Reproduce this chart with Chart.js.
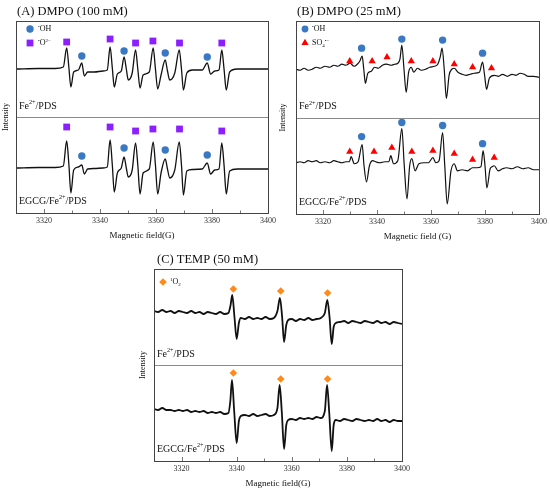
<!DOCTYPE html>
<html>
<head>
<meta charset="utf-8">
<script src="https://cdn.jsdelivr.net/npm/chart.js@4.4.1/dist/chart.umd.min.js"></script>
<style>
  html, body { margin: 0; padding: 0; background: #fff; }
  #wrap { position: relative; width: 550px; height: 492px; }
  #wrap canvas { position: absolute; left: 0; top: 0; }
</style>
</head>
<body>
<div id="wrap">
  <canvas id="panelA" width="550" height="492"></canvas>
  <canvas id="panelB" width="550" height="492"></canvas>
  <canvas id="panelC" width="550" height="492"></canvas>
</div>
<script>
// Shared axis
const xTickLabels = [3320, 3340, 3360, 3380, 3400];
const xMinorTicks = [3330, 3350, 3370, 3390];

// (A) DMPO 100 mM - Fe2+/PDS
const aTopField = [
  3310, 3318, 3324, 3326.9, 3328.1, 3328.9, 3329.6, 3330.6, 3332.3, 3333.5,
  3334.4, 3335.6, 3338, 3341, 3342.6, 3343.6, 3344.4, 3345.1, 3346.2, 3347.6,
  3348.6, 3349.4, 3350.1, 3351.5, 3352.7, 3353.5, 3354.3, 3355.4, 3357.6, 3359.0,
  3359.8, 3360.6, 3361.8, 3363.3, 3364.1, 3364.9, 3366.7, 3368.3, 3369.1, 3369.8,
  3371, 3373, 3376.5, 3378.3, 3379.5, 3381, 3382.5, 3383.5, 3384.3, 3385.1,
  3386.3, 3389, 3395, 3400
];
const aTopSignal = [
  0, 0.5, 0.5, 2, 21, 1, -18, -3, -1, 6,
  -7, -3, -3, -2, -1, 22, 1, -18, -5, -2,
  12, 0, -11, -4, 19, 0, -19, -6, -3, 21,
  0, -20, -6, 9, -2, -11, -4, 19, 0, -21,
  -4, -1, -1, 6, -5, -2, -1, 19, 0, -21,
  -3, 0, 0, 0
];
// (A) EGCG/Fe2+/PDS
const aBotField = aTopField;
const aBotSignal = [
  -3, -2.5, -2.5, -1, 24, 0, -28, -5, -2, 0,
  -9, -4, -3.5, -3, -2, 25, 0, -27, -8, -3,
  8, -3, -12, -5, 22, 0, -29, -8, -4, 23,
  0, -29, -8, 6, -4, -13, -5, 23, 0, -30,
  -6, -4.5, -4, 2, -9, -5, -4, 22, 0, -29,
  -6, -4, -4, -4
];
const aOHField = [3333.5, 3348.6, 3363.3, 3378.3];
const aOHTop = [13, 18, 16, 12];
const aOHBot = [9, 17, 15, 10];
const aO2Field = [3328.1, 3343.6, 3352.7, 3358.9, 3368.4, 3383.5];
const aO2Top = [27, 30, 26, 28, 26, 26];
const aO2Bot = [38, 38, 34, 36, 36, 34];

// (B) DMPO 25 mM - Fe2+/PDS
const bTopField = [
  3310, 3311.5, 3313, 3314.5, 3316, 3317.5, 3319, 3320.7, 3322.5, 3324,
  3325.5, 3327, 3328.5, 3330, 3331.5, 3332.7, 3333.6, 3334.5, 3335.1, 3335.7,
  3336.6, 3337.9, 3339.1, 3340.5, 3342, 3343.5, 3345.3, 3346.5, 3347.7, 3348.5,
  3349.2, 3350, 3350.8, 3351.7, 3352.7, 3353.6, 3355, 3356.4, 3358, 3359.5,
  3361.3, 3362.5, 3363.4, 3364.1, 3364.9, 3365.7, 3366.7, 3367.7, 3368.6, 3370,
  3371.5, 3373, 3374.5, 3376, 3377.9, 3379.1, 3379.8, 3380.6, 3381.6, 3383.4,
  3385, 3386.5, 3388.3, 3390, 3391.5, 3393, 3394.5, 3396, 3398, 3400
];
const bTopSignal = [
  0, -1, 1, -1, 0, 2, 1, 3, 2, 4,
  3, 5, 4, 6, 3, 5, 8, 13, 0, -14,
  -4, -2, 2, 1, 4, 5, 4, 5, 6, 10,
  24, 0, -23, -3, 2, -3, 1, -1, 0, 2,
  3, 5, 12, 21, 0, -29, -6, 0, 1, -3,
  -5, -6, -5, -4, -3, 7, -5, -20, -9, -6,
  -7, -5, -7, -5, -6, -4, -5, -7, -7, -8
];
// (B) EGCG/Fe2+/PDS
const bBotField = [
  3310, 3311.5, 3313, 3314.5, 3316, 3317.5, 3319, 3320.7, 3322.5, 3324,
  3325.5, 3327, 3328.5, 3329.8, 3330.4, 3331.6, 3333, 3334.5, 3335.2, 3336.1,
  3337.2, 3338.4, 3339.5, 3341, 3343, 3344.4, 3345.1, 3346.1, 3347.7, 3349.2,
  3350.1, 3351.1, 3352.1, 3352.9, 3354.1, 3355.5, 3357.5, 3359, 3360.7, 3361.8,
  3363, 3364.3, 3365.1, 3366.0, 3367.4, 3368.6, 3369.8, 3371.5, 3373.5, 3375.4,
  3377, 3378.5, 3379.3, 3380, 3380.7, 3381.9, 3382.6, 3383.4, 3384.9, 3386.5,
  3388, 3390, 3392, 3394, 3396, 3398, 3400
];
const bBotSignal = [
  3, 4, 3, 5, 4, 5, 3, 4, 3, 5,
  4, 3, 4, 4, 9, 2, 4, 21, 0, -16,
  0, 5, 4, 3, 4, 4, 10, 2, 5, 37,
  0, -33, 0, 7, -5, 2, 3, 3, 8, 3,
  5, 33, 0, -38, -5, 2, -5, -4, -5, -2,
  -2, -1, 15, 0, -22, -3, -1, 0, -5, -3,
  -2, -3, -1, -3, -2, -4, -4
];
const bOHField = [3334.3, 3349.2, 3364.3, 3379.1];
const bOHTop = [21, 30, 29, 16];
const bOHBot = [29, 43, 40, 22];
const bSO4FieldTop = [3329.9, 3338.2, 3343.7, 3352.7, 3360.7, 3368.6, 3375.4, 3382.4];
const bSO4Top = [8, 8, 12, 8, 8, 5, 2, 1];
const bSO4FieldBot = [3329.9, 3338.9, 3345.5, 3352.9, 3360.7, 3368.6, 3375.4, 3383.4];
const bSO4Bot = [14, 14, 18, 14, 15, 12, 6, 8];

// (C) TEMP 50 mM - Fe2+/PDS
const cTopField = [
  3310, 3311.5, 3313, 3314.5, 3316, 3317.5, 3319, 3320.5, 3322, 3323.5,
  3325, 3326.5, 3328, 3329.5, 3331, 3332.5, 3334, 3335.5, 3337, 3337.8,
  3338.4, 3339.2, 3340, 3340.8, 3341.5, 3343, 3344.5, 3346, 3347.5, 3349,
  3350.5, 3352, 3353.5, 3354.8, 3355.7, 3356.5, 3357.2, 3358, 3358.7, 3360,
  3361.5, 3363, 3364.5, 3366, 3367.5, 3369, 3370.5, 3372, 3372.9, 3373.7,
  3374.5, 3375.2, 3376, 3377.5, 3379, 3380.5, 3382, 3383.5, 3385, 3386.5,
  3388, 3389.5, 3391, 3392.5, 3394, 3395.5, 3397, 3398.5, 3400
];
const cTopSignal = [
  6, 5, 7, 5, 6, 4, 6, 5, 4, 6,
  4, 5, 3, 5, 4, 3, 5, 3, 4, 12,
  22, 0, -22, -6, -1, -2, 0, -2, -1, -2,
  0, -2, -1, 6, 19, 0, -25, -8, -3, -2,
  -4, -2, -3, -1, -3, -2, -1, 4, 17, 0,
  -27, -10, -6, -5, -4, -6, -4, -5, -6, -4,
  -5, -6, -4, -6, -5, -7, -5, -6, -7
];
// (C) EGCG/Fe2+/PDS
const cBotField = [
  3310, 3311.5, 3313, 3314.5, 3316, 3317.5, 3319, 3320.5, 3322, 3323.5,
  3325, 3326.5, 3328, 3329.5, 3331, 3332.5, 3334, 3335.5, 3337, 3337.7,
  3338.3, 3339.1, 3340, 3340.8, 3341.5, 3343, 3344.5, 3346, 3347.5, 3349,
  3350.5, 3352, 3353.5, 3354.8, 3355.6, 3356.4, 3357.2, 3358, 3358.7, 3360,
  3361.5, 3363, 3364.5, 3366, 3367.5, 3369, 3370.5, 3372, 3372.8, 3373.6,
  3374.5, 3375.2, 3376, 3377.5, 3379, 3380.5, 3382, 3383.5, 3385, 3386.5,
  3388, 3389.5, 3391, 3392.5, 3394, 3395.5, 3397, 3398.5, 3400
];
const cBotSignal = [
  4, 3, 5, 3, 3, 2, 3, 2, 3, 1,
  2, 1, 2, 0, 1, 0, 1, -1, 0, 12,
  33, 2, -30, -8, -3, -2, -3, -1, -3, -2,
  -1, -3, -2, 5, 28, 0, -36, -12, -7, -6,
  -7, -5, -6, -5, -6, -4, -5, 2, 28, 0,
  -38, -12, -7, -8, -6, -7, -8, -6, -7, -8,
  -7, -8, -6, -8, -7, -9, -7, -8, -8
];
const cO2Field = [3338.8, 3356.0, 3373.0];
const cO2Top = [28, 26, 24];
const cO2Bot = [40, 34, 34];

const SERIF = '"Liberation Serif", "Times New Roman", serif';
const BLUE = '#3a78c4';
const PURPLE = '#8c1fff';
const RED = '#ff0000';
const ORANGE = '#ff8a1a';

const FE_LABEL = [['Fe', 'n'], ['2+', 'sup'], ['/PDS', 'n']];
const EGCG_LABEL = [['EGCG/Fe', 'n'], ['2+', 'sup'], ['/PDS', 'n']];

function pts(xs, ys) {
  return xs.map((x, i) => ({ x: x, y: ys[i] }));
}

function spectrum(xs, ys, axis, width) {
  return {
    data: pts(xs, ys), yAxisID: axis, showLine: true, pointRadius: 0,
    borderColor: '#111', borderWidth: width, cubicInterpolationMode: 'monotone', order: 2
  };
}

function markers(xs, ys, axis, style, color, radius) {
  return {
    data: pts(xs, ys), yAxisID: axis, showLine: false, pointStyle: style,
    pointRadius: radius, backgroundColor: color, borderColor: color, borderWidth: 0, order: 1
  };
}

// text with super/subscripts
function drawRich(ctx, x, y, parts, size, align) {
  const fontFor = k => (k === 'n' ? size : size * 0.62) + 'px ' + SERIF;
  const widths = parts.map(([t, k]) => { ctx.font = fontFor(k); return ctx.measureText(t).width; });
  const total = widths.reduce((a, b) => a + b, 0);
  let cx = align === 'center' ? x - total / 2 : x;
  ctx.textAlign = 'left';
  ctx.textBaseline = 'middle';
  parts.forEach(([t, k], i) => {
    ctx.font = fontFor(k);
    const dy = k === 'sup' ? -size * 0.32 : (k === 'sub' ? size * 0.28 : 0);
    ctx.fillText(t, cx, y + dy);
    cx += widths[i];
  });
}

function decoPlugin(d) {
  return {
    id: 'deco' + d.key,
    afterDraw(chart) {
      const ctx = chart.ctx;
      const a = chart.chartArea;
      const xs = chart.scales.x;
      const mid = chart.scales.yTop.bottom;
      ctx.save();

      // inward ticks on bottom axis
      ctx.strokeStyle = '#777';
      ctx.lineWidth = 1;
      ctx.beginPath();
      xTickLabels.forEach(v => {
        const px = Math.round(xs.getPixelForValue(v)) + 0.5;
        ctx.moveTo(px, a.bottom); ctx.lineTo(px, a.bottom - 4);
      });
      xMinorTicks.forEach(v => {
        const px = Math.round(xs.getPixelForValue(v)) + 0.5;
        ctx.moveTo(px, a.bottom); ctx.lineTo(px, a.bottom - 2.5);
      });
      ctx.stroke();

      // divider between the two spectra
      ctx.strokeStyle = '#8a8a8a';
      ctx.beginPath();
      ctx.moveTo(a.left, Math.round(mid) + 0.5);
      ctx.lineTo(a.right, Math.round(mid) + 0.5);
      ctx.stroke();

      // frame
      ctx.strokeStyle = '#444';
      ctx.strokeRect(Math.round(a.left) + 0.5, Math.round(a.top) + 0.5,
        Math.round(a.right - a.left), Math.round(a.bottom - a.top));

      ctx.fillStyle = '#111';
      // panel title
      ctx.font = '12.5px ' + SERIF;
      ctx.textAlign = 'left';
      ctx.textBaseline = 'middle';
      ctx.fillText(d.title, a.left + d.titleDx, a.top - 9);

      // axis titles
      ctx.font = '9px ' + SERIF;
      ctx.textAlign = 'center';
      ctx.fillText(d.xTitle, (a.left + a.right) / 2, a.bottom + 23);
      ctx.save();
      ctx.translate(a.left - d.yTitleDx, (a.top + a.bottom) / 2);
      ctx.rotate(-Math.PI / 2);
      ctx.font = '8px ' + SERIF;
      ctx.fillText('Intensity', 0, 0);
      ctx.restore();

      // sample labels
      drawRich(ctx, a.left + 3, mid - 11, FE_LABEL, 10, 'left');
      drawRich(ctx, a.left + 3, a.bottom - 12, EGCG_LABEL, 10, 'left');

      // legend
      d.legend.forEach((item, i) => {
        const ly = a.top + d.legendY[i];
        ctx.fillStyle = item.color;
        Chart.helpers.drawPoint(ctx, { pointStyle: item.style, radius: item.r, rotation: 0, borderWidth: 0 }, a.left + d.legendX, ly);
        ctx.fillStyle = '#111';
        drawRich(ctx, a.left + d.legendTextX, ly, item.parts, 8, 'left');
      });

      ctx.restore();
    }
  };
}

function makePanel(id, area, datasets, deco) {
  const xAxisHeight = 12;
  new Chart(document.getElementById(id), {
    type: 'scatter',
    data: { datasets: datasets },
    options: {
      responsive: false,
      animation: false,
      events: [],
      layout: {
        padding: { left: area.left, top: area.top, right: 550 - area.right, bottom: 492 - area.bottom - xAxisHeight }
      },
      plugins: { legend: { display: false }, tooltip: { enabled: false } },
      scales: {
        x: {
          type: 'linear', min: 3310, max: 3400,
          afterBuildTicks: s => { s.ticks = xTickLabels.map(v => ({ value: v })); },
          afterFit: s => { s.height = xAxisHeight; },
          grid: { display: false, drawTicks: false },
          border: { display: false },
          ticks: {
            font: { family: SERIF, size: 8 }, color: '#333', padding: 3, maxRotation: 0, autoSkip: false,
            callback: v => String(v)
          }
        },
        yTop: { type: 'linear', min: -48, max: 48, display: false, stack: 'pair', stackWeight: 1, weight: 1 },
        yBot: { type: 'linear', min: -48, max: 48, display: false, stack: 'pair', stackWeight: 1, weight: 0 }
      }
    },
    plugins: [decoPlugin(deco)]
  });
}

makePanel('panelA', { left: 16, top: 21, right: 268, bottom: 213 }, [
  spectrum(aTopField, aTopSignal, 'yTop', 1.3),
  spectrum(aBotField, aBotSignal, 'yBot', 1.3),
  markers(aOHField, aOHTop, 'yTop', 'circle', BLUE, 3.7),
  markers(aOHField, aOHBot, 'yBot', 'circle', BLUE, 3.7),
  markers(aO2Field, aO2Top, 'yTop', 'rect', PURPLE, 4.8),
  markers(aO2Field, aO2Bot, 'yBot', 'rect', PURPLE, 4.8)
], {
  key: 'A', title: '(A) DMPO (100 mM)', titleDx: 1, xTitle: 'Magnetic field(G)', yTitleDx: 10,
  legendX: 14, legendTextX: 22, legendY: [8, 22],
  legend: [
    { style: 'circle', color: BLUE, r: 3.7, parts: [['•', 'sup'], ['OH', 'n']] },
    { style: 'rect', color: PURPLE, r: 4.8, parts: [['•', 'sup'], ['O', 'n'], ['2−', 'sup']] }
  ]
});

makePanel('panelB', { left: 296, top: 21, right: 540, bottom: 214 }, [
  spectrum(bTopField, bTopSignal, 'yTop', 1.2),
  spectrum(bBotField, bBotSignal, 'yBot', 1.2),
  markers(bOHField, bOHTop, 'yTop', 'circle', BLUE, 3.7),
  markers(bOHField, bOHBot, 'yBot', 'circle', BLUE, 3.7),
  markers(bSO4FieldTop, bSO4Top, 'yTop', 'triangle', RED, 4.2),
  markers(bSO4FieldBot, bSO4Bot, 'yBot', 'triangle', RED, 4.2)
], {
  key: 'B', title: '(B) DMPO (25 mM)', titleDx: 1, xTitle: 'Magnetic field (G)', yTitleDx: 13,
  legendX: 9, legendTextX: 16, legendY: [8, 22],
  legend: [
    { style: 'circle', color: BLUE, r: 3.4, parts: [['•', 'sup'], ['OH', 'n']] },
    { style: 'triangle', color: RED, r: 4.2, parts: [['SO', 'n'], ['4', 'sub'], ['•−', 'sup']] }
  ]
});

makePanel('panelC', { left: 154, top: 269, right: 402, bottom: 461 }, [
  spectrum(cTopField, cTopSignal, 'yTop', 1.8),
  spectrum(cBotField, cBotSignal, 'yBot', 1.8),
  markers(cO2Field, cO2Top, 'yTop', 'rectRot', ORANGE, 3.8),
  markers(cO2Field, cO2Bot, 'yBot', 'rectRot', ORANGE, 3.8)
], {
  key: 'C', title: '(C) TEMP (50 mM)', titleDx: 3, xTitle: 'Magnetic field(G)', yTitleDx: 11,
  legendX: 9, legendTextX: 16, legendY: [13],
  legend: [
    { style: 'rectRot', color: ORANGE, r: 3.8, parts: [['1', 'sup'], ['O', 'n'], ['2', 'sub']] }
  ]
});
</script>
</body>
</html>
